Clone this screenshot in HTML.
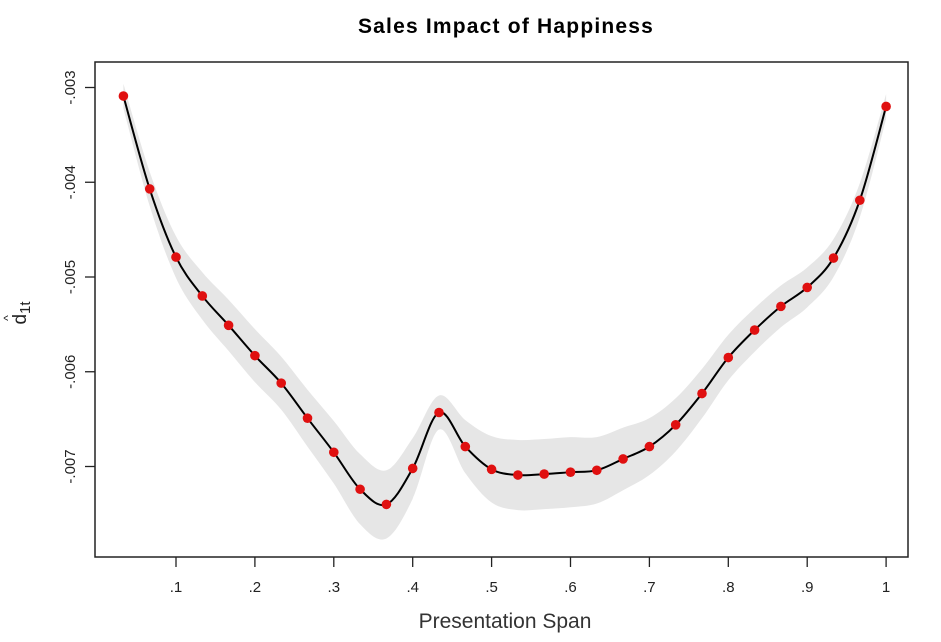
<!DOCTYPE html>
<html><head><meta charset="utf-8"><style>
body{margin:0;background:#fff;}
svg{display:block;font-family:"Liberation Sans",sans-serif;}
</style></head><body>
<svg id="chart" width="941" height="642">
<text x="506" y="33" text-anchor="middle" font-size="21" font-weight="bold" letter-spacing="1.2">Sales Impact of Happiness</text>
<rect x="95" y="62" width="813" height="495" fill="none" stroke="#222" stroke-width="1.5"/>
<g id="band"></g>
<g id="line"></g>
<g id="pts"></g>
<g id="xax"></g>
<g id="yax"></g>
<text x="505" y="628" text-anchor="middle" font-size="21" fill="#333">Presentation Span</text>
<g transform="translate(26,313) rotate(-90)"><text x="0" y="0" text-anchor="middle" font-size="19" fill="#222">d<tspan font-size="15" dy="4">1t</tspan></text><text x="-5" y="-14" font-size="12" text-anchor="middle" fill="#222">^</text></g>
</svg>
<script>
const xs=[1,2,3,4,5,6,7,8,9,10,11,12,13,14,15,16,17,18,19,20,21,22,23,24,25,26,27,28,29,30];
const values=[-.00309,-.00407,-.00479,-.00520,-.00551,-.00583,-.00612,-.00649,-.00685,-.00724,-.00740,-.00702,-.00643,-.00679,-.00703,-.00709,-.00708,-.00706,-.00704,-.00692,-.00679,-.00656,-.00623,-.00585,-.00556,-.00531,-.00511,-.00480,-.00419,-.00320];
const halfWidth=[.00013,.00018,.00022,.00025,.00027,.00028,.00028,.0003,.00033,.00037,.00036,.00032,.00018,.00028,.00035,.00037,.00037,.00037,.00035,.00033,.0003,.00028,.00026,.00024,.00023,.00022,.00021,.0002,.00018,.00013];
const xTicks=[.1,.2,.3,.4,.5,.6,.7,.8,.9,1];
const xTickLabels=[".1",".2",".3",".4",".5",".6",".7",".8",".9","1"];
const yTicks=[-.003,-.004,-.005,-.006,-.007];
const yTickLabels=["-.003","-.004","-.005","-.006","-.007"];
const NS="http://www.w3.org/2000/svg";
const X=v=>176+(v-0.1)*789;
const Y=v=>87.5+(-.003-v)*94750;
const px=i=>X(xs[i]/30);
function mk(t,a,p){const e=document.createElementNS(NS,t);for(const k in a)e.setAttribute(k,a[k]);p.appendChild(e);return e;}
function smooth(P){let d="M"+P[0][0]+","+P[0][1];for(let i=0;i<P.length-1;i++){const p0=P[Math.max(i-1,0)],p1=P[i],p2=P[i+1],p3=P[Math.min(i+2,P.length-1)];d+=` C${p1[0]+(p2[0]-p0[0])/6},${p1[1]+(p2[1]-p0[1])/6} ${p2[0]-(p3[0]-p1[0])/6},${p2[1]-(p3[1]-p1[1])/6} ${p2[0]},${p2[1]}`;}return d;}
const up=values.map((v,i)=>[px(i),Y(v+halfWidth[i])]);
const lo=values.map((v,i)=>[px(i),Y(v-halfWidth[i])]).reverse();
const bd=smooth(up)+" L"+smooth(lo).slice(1)+" Z";
const b=mk("path",{d:bd,fill:"#e6e6e6"},document.getElementById("band"));


const ln=mk("path",{d:smooth(values.map((v,i)=>[px(i),Y(v)])),fill:"none",stroke:"#000","stroke-width":2},document.getElementById("line"));


values.forEach((v,i)=>{const c=mk("circle",{cx:px(i),cy:Y(v),r:4.8,fill:"#e01010"},document.getElementById("pts"));

});
const xa=document.getElementById("xax");
xTicks.forEach((t,i)=>{const l=mk("line",{x1:X(t),x2:X(t),y1:557,y2:567,stroke:"#222","stroke-width":1.3},xa);


const tx=mk("text",{x:X(t),y:592,"text-anchor":"middle","font-size":15,fill:"#222"},xa);tx.textContent=xTickLabels[i];

});
const ya=document.getElementById("yax");
yTicks.forEach((t,i)=>{const l=mk("line",{x1:85,x2:95,y1:Y(t),y2:Y(t),stroke:"#222","stroke-width":1.3},ya);


const tx=mk("text",{x:0,y:0,"text-anchor":"middle","font-size":15,fill:"#222",transform:`translate(75,${Y(t)}) rotate(-90)`},ya);tx.textContent=yTickLabels[i];

});
</script>
</body></html>
